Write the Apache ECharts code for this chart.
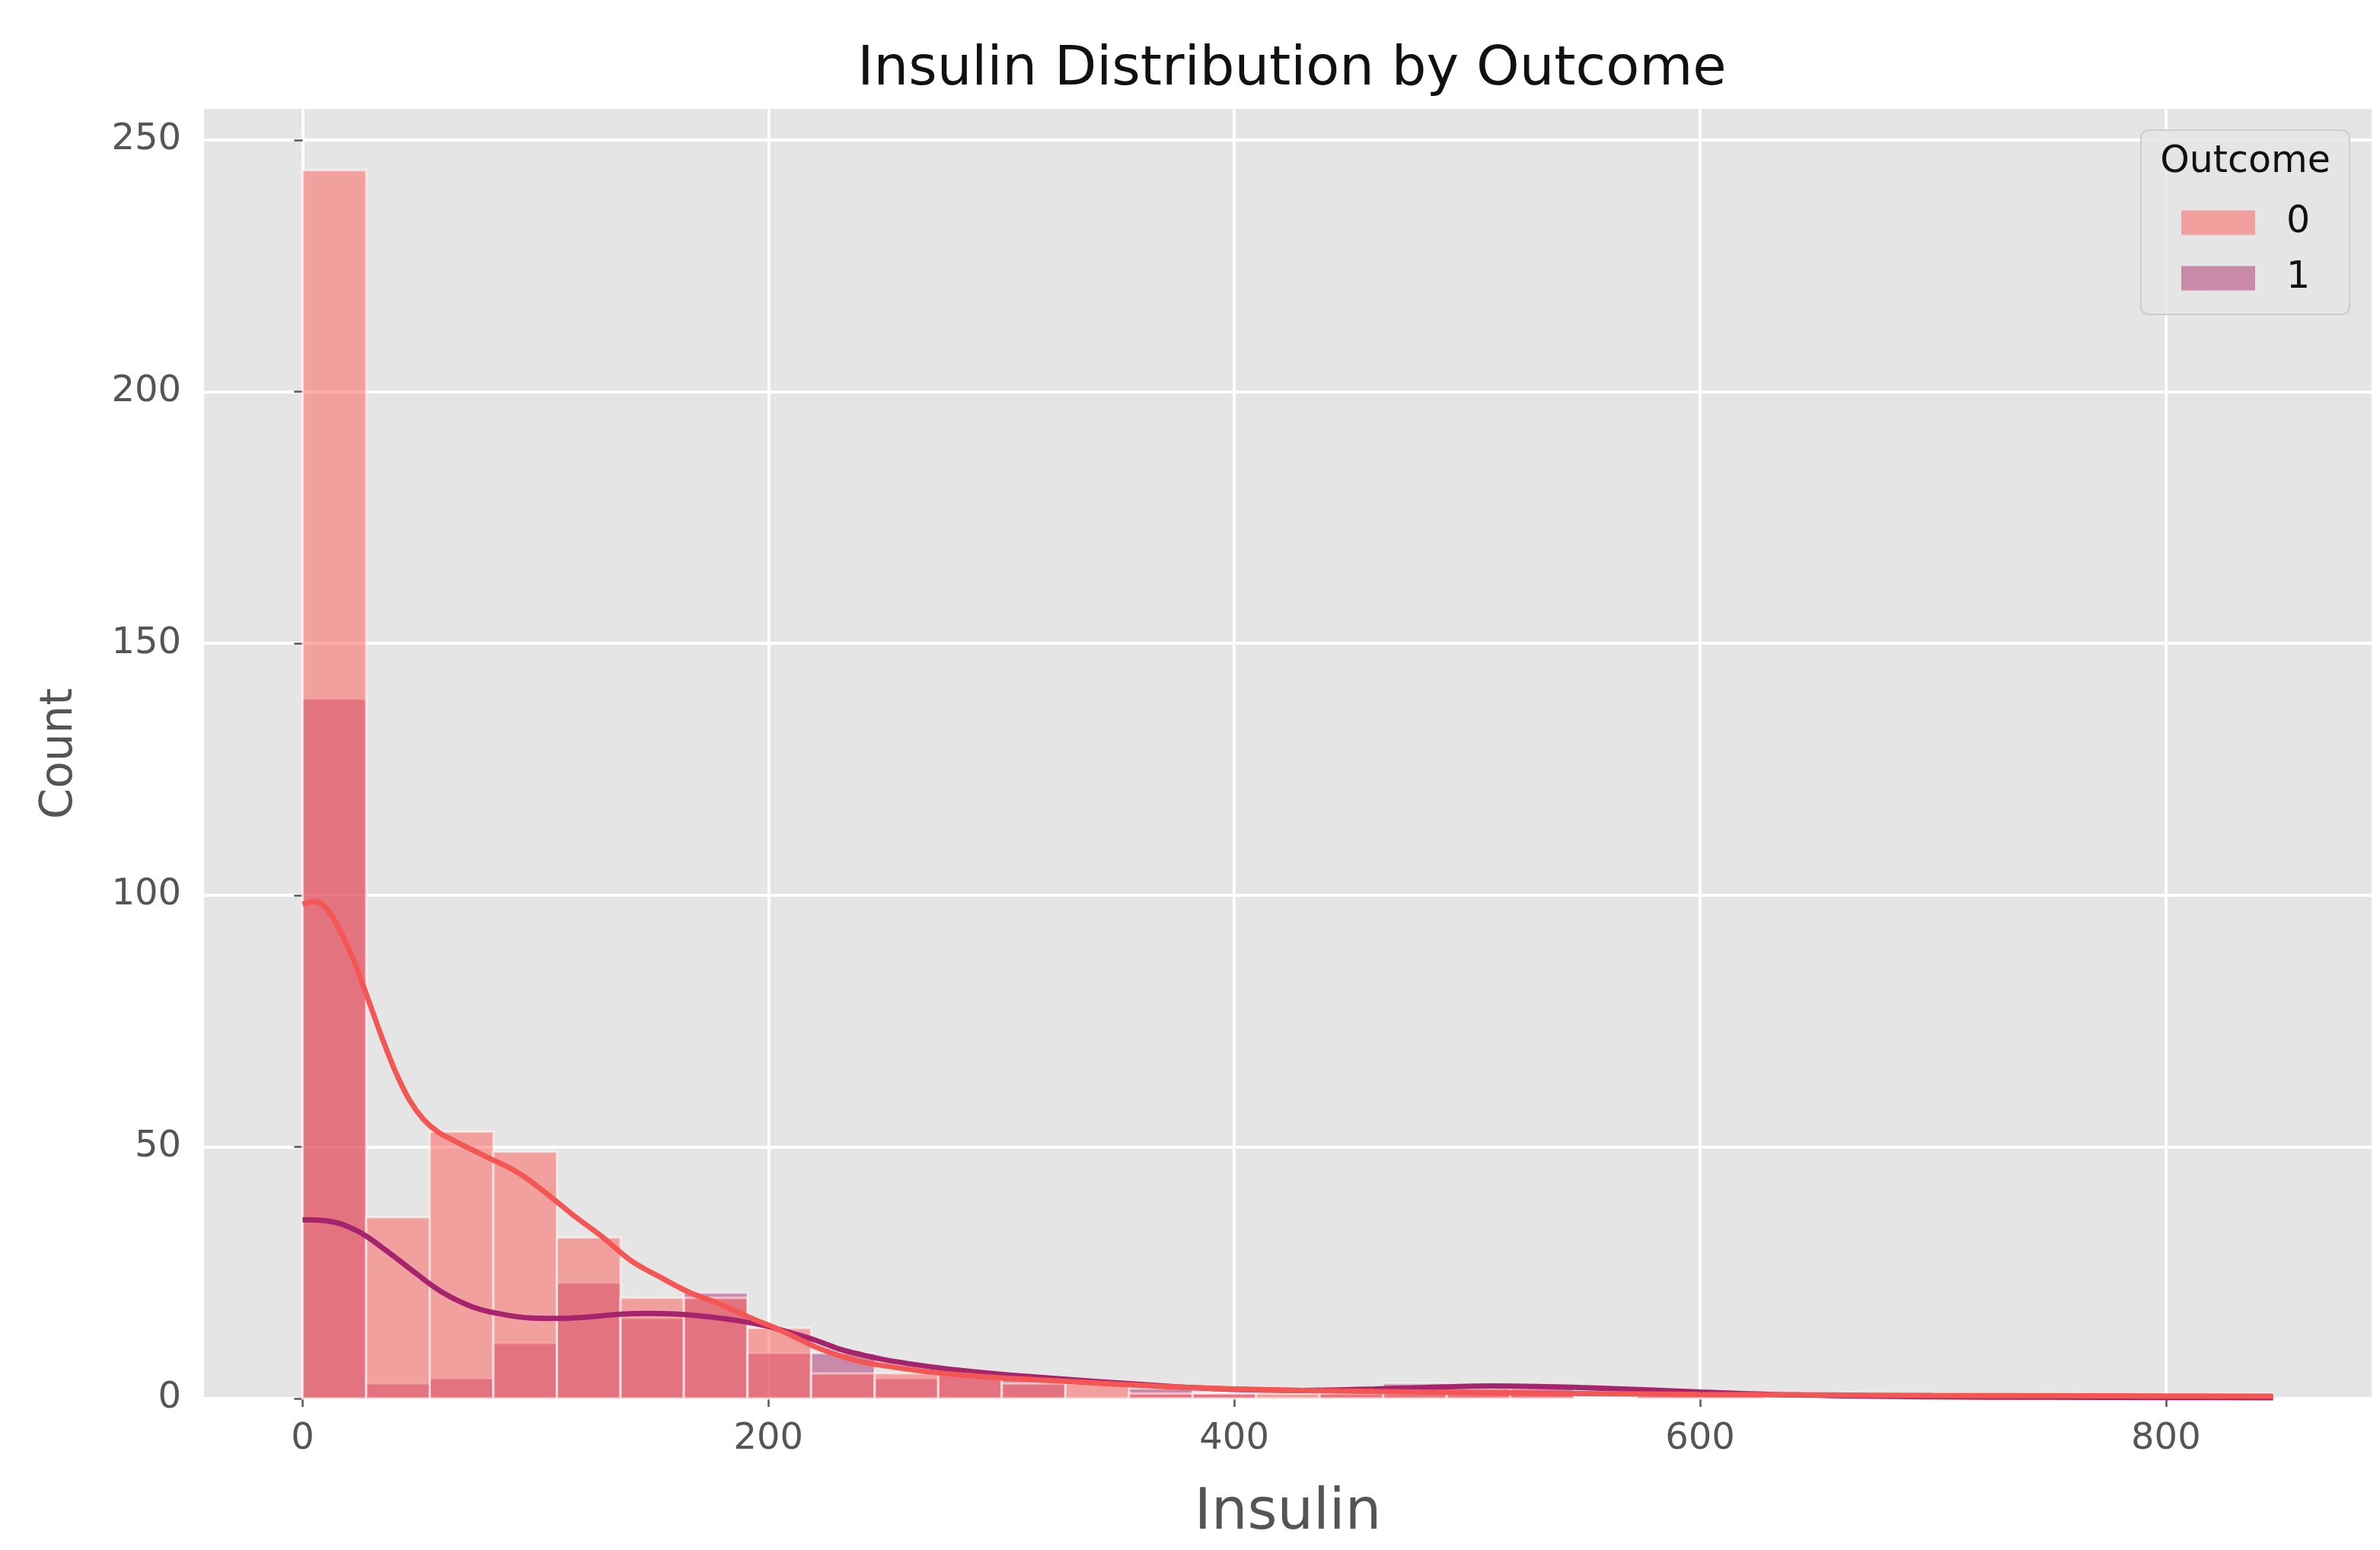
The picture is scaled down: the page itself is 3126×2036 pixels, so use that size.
<!DOCTYPE html>
<html>
<head>
<meta charset="utf-8">
<script src="https://cdn.jsdelivr.net/npm/echarts@6/dist/echarts.min.js"></script>
<style>
html,body{margin:0;padding:0;background:#fff;}
#chart{width:3126px;height:2036px;}
</style>
</head>
<body>
<div id="chart"></div>
<script>
// ---- data ----
const binEdges = [0, 27.3, 54.6, 81.9, 109.2, 136.5, 163.7, 191.0, 218.3, 245.6, 272.9, 300.2, 327.5, 354.8, 382.1, 409.4, 436.6, 463.9, 491.2, 518.5, 545.8, 573.1, 600.4, 627.7, 655.0, 682.3, 709.5, 736.8, 764.1, 791.4, 818.7, 846];
const counts0 = [244, 36, 53, 49, 32, 20, 20, 14, 5, 5, 5, 3, 3, 1, 1, 1, 1, 1, 1, 1, 0, 0, 1, 0, 1, 0, 0, 1, 0, 0, 0];
const counts1 = [139, 3, 4, 11, 23, 16, 21, 9, 9, 4, 5, 4, 0, 2, 1, 0, 1, 3, 2, 2, 0, 1, 0, 0, 0, 0, 0, 0, 0, 0, 1];
const kdeX0 = [0, 5, 10, 16, 22, 28, 34, 40, 46, 52, 58, 66, 79, 92, 104, 116, 129, 141, 154, 166, 179, 193, 205, 220, 230, 240, 250, 265, 280, 300, 320, 340, 360, 380, 400, 430, 460, 500, 550, 600, 650, 700, 750, 800, 846];
const kdeY0 = [98.2, 98.7, 97.5, 93, 87, 79.5, 71.8, 64.8, 59.2, 55.4, 53, 51, 48, 45, 41, 36.5, 32, 27.4, 24, 21.1, 18.8, 15.9, 13.6, 10.3, 8.6, 7.3, 6.5, 5.5, 4.8, 4.1, 3.6, 3.1, 2.6, 2.2, 1.9, 1.6, 1.4, 1.2, 1.0, 0.8, 0.7, 0.6, 0.55, 0.5, 0.45];
const kdeX1 = [0, 10, 23, 35, 48, 60, 73, 85, 98, 110, 123, 135, 148, 160, 173, 185, 193, 200, 210, 220, 230, 240, 250, 265, 280, 300, 320, 340, 360, 380, 400, 430, 460, 490, 510, 530, 560, 600, 640, 700, 750, 800, 846];
const kdeY1 = [35.5, 35.3, 33.4, 29.7, 25.1, 21.1, 18.2, 16.8, 16.0, 15.9, 16.2, 16.7, 16.9, 16.8, 16.3, 15.6, 15.0, 14.3, 13.0, 11.6, 9.9, 8.7, 7.7, 6.6, 5.7, 4.8, 4.1, 3.4, 2.8, 2.2, 1.8, 1.6, 1.9, 2.3, 2.5, 2.4, 2.0, 1.3, 0.7, 0.35, 0.25, 0.2, 0.15];
const xTicks = [0, 200, 400, 600, 800];
const yTicks = [0, 50, 100, 150, 200, 250];
const outcomeNames = ['0', '1'];

// ---- build ----
const fill0 = 'rgba(255,91,87,0.5)';
const fill1 = 'rgba(171,47,107,0.5)';
const line0 = '#F45753';
const line1 = '#A5246D';

function histData(counts) {
  const out = [];
  counts.forEach((c, i) => { if (c > 0) out.push([binEdges[i], binEdges[i + 1], c]); });
  return out;
}
function makeRender(fill) {
  return function (params, api) {
    const p0 = api.coord([api.value(0), api.value(2)]);
    const p1 = api.coord([api.value(1), 0]);
    return {
      type: 'rect',
      shape: { x: p0[0], y: p0[1], width: p1[0] - p0[0], height: p1[1] - p0[1] },
      style: { fill: fill, stroke: 'rgba(255,255,255,0.5)', lineWidth: 3 }
    };
  };
}
function zip(xs, ys) { return xs.map((x, i) => [x, ys[i]]); }

const font = 'DejaVu Sans';
const chart = echarts.init(document.getElementById('chart'), null, { renderer: 'canvas' });
chart.setOption({
  backgroundColor: '#ffffff',
  animation: false,
  textStyle: { fontFamily: font },
  title: {
    text: 'Insulin Distribution by Outcome',
    left: 1692, top: 51, textAlign: 'center',
    textStyle: { fontFamily: font, fontSize: 72, fontWeight: 'normal', color: '#111' }
  },
  grid: {
    left: 268, right: 11, top: 143, bottom: 199,
    show: true, backgroundColor: '#E5E5E5', borderWidth: 0
  },
  xAxis: {
    type: 'value', min: -42.3, max: 888.3,
    name: 'Insulin', nameLocation: 'middle', nameGap: 114,
    nameTextStyle: { fontFamily: font, fontSize: 75, color: '#555' },
    axisLine: { show: false },
    axisTick: { show: true, customValues: xTicks, length: 11, lineStyle: { color: '#555', width: 2.5 } },
    axisLabel: { customValues: xTicks, fontFamily: font, fontSize: 48, color: '#555', margin: 30 },
    splitLine: { show: true, lineStyle: { color: '#ffffff', width: 4 } }
  },
  yAxis: {
    type: 'value', min: 0, max: 256.2,
    name: 'Count', nameLocation: 'middle', nameGap: 160, nameRotate: 90,
    nameTextStyle: { fontFamily: font, fontSize: 58, color: '#555' },
    axisLine: { show: false },
    axisTick: { show: true, customValues: yTicks, length: 11, lineStyle: { color: '#555', width: 2.5 } },
    axisLabel: { customValues: yTicks, fontFamily: font, fontSize: 48, color: '#555', margin: 30 },
    splitLine: { show: true, lineStyle: { color: '#ffffff', width: 4 } }
  },
  legend: {
    orient: 'vertical', left: 2865, top: 268, z: 6,
    itemWidth: 97, itemHeight: 32, itemGap: 24, padding: 0,
    icon: 'rect',
    textStyle: { fontFamily: font, fontSize: 49, color: '#111', padding: [0, 0, 0, 36] },
    data: [
      { name: outcomeNames[0], itemStyle: { color: fill0 } },
      { name: outcomeNames[1], itemStyle: { color: fill1 } }
    ]
  },
  graphic: [
    { type: 'rect', z: 4, shape: { x: 2812, y: 171, width: 274, height: 242, r: 10 },
      style: { fill: 'rgba(229,229,229,0.85)', stroke: '#cccccc', lineWidth: 2 } },
    { type: 'text', z: 5, style: { x: 2949, y: 213, text: 'Outcome', align: 'center', verticalAlign: 'middle',
      font: '49px "DejaVu Sans"', fill: '#111' } }
  ],
  series: [
    { name: outcomeNames[1], type: 'custom', z: 2, renderItem: makeRender(fill1),
      itemStyle: { color: fill1 }, encode: { x: [0, 1], y: 2 }, data: histData(counts1) },
    { name: outcomeNames[0], type: 'custom', z: 2, renderItem: makeRender(fill0),
      itemStyle: { color: fill0 }, encode: { x: [0, 1], y: 2 }, data: histData(counts0) },
    { name: 'kde1', type: 'line', z: 3, smooth: 0.4, showSymbol: false, silent: true,
      lineStyle: { color: line1, width: 7 }, itemStyle: { color: line1 }, data: zip(kdeX1, kdeY1) },
    { name: 'kde0', type: 'line', z: 3, smooth: 0.4, showSymbol: false, silent: true,
      lineStyle: { color: line0, width: 7 }, itemStyle: { color: line0 }, data: zip(kdeX0, kdeY0) }
  ]
});
</script>
</body>
</html>
